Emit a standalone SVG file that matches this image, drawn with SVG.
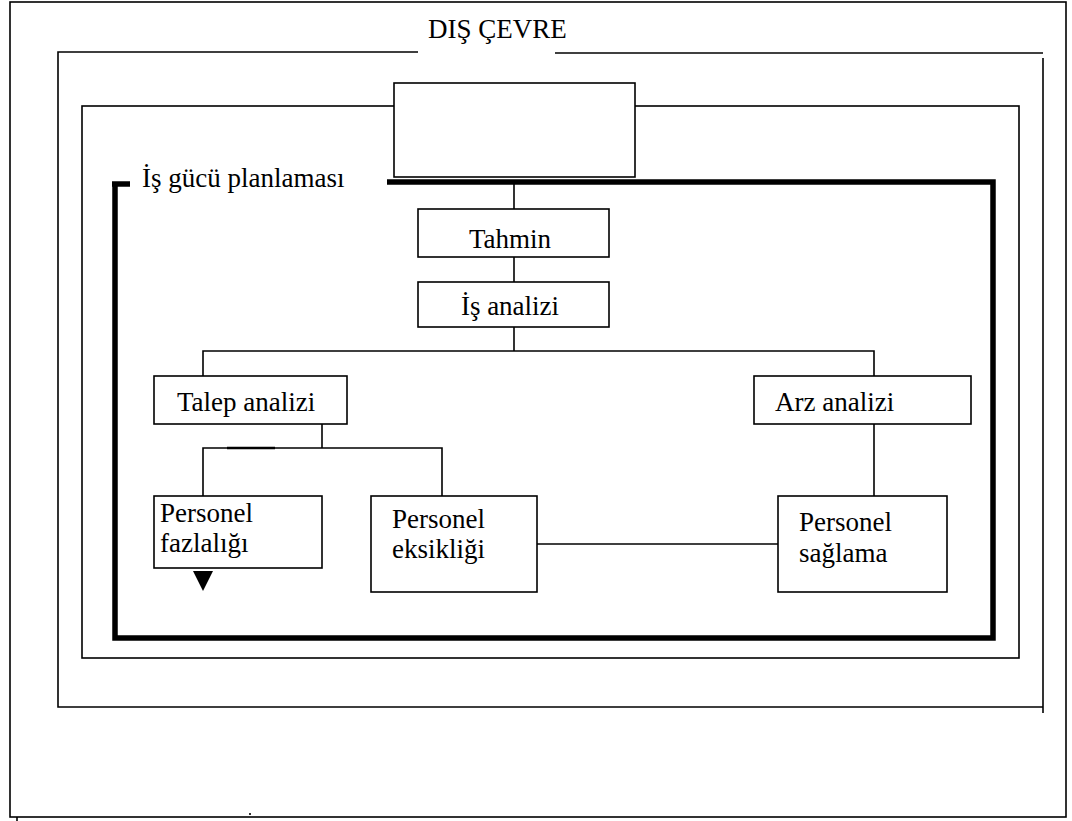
<svg xmlns="http://www.w3.org/2000/svg" width="1072" height="821" viewBox="0 0 1072 821">
<style>
.ln{stroke:#000;stroke-width:1.6;fill:none}
.bx{stroke:#000;stroke-width:1.6;fill:#fff}
.thick{stroke:#000;stroke-width:5.5;fill:none}
.t{font-family:"Liberation Serif","Times New Roman",serif;font-size:27px;fill:#000}
</style>
<rect width="1072" height="821" fill="#fff"/>
<g id="outer-frame">
<rect x="10" y="2" width="1056" height="815" class="ln"/>
<line x1="17" y1="817" x2="17" y2="821" class="ln"/>
<line x1="250" y1="813" x2="250" y2="815" class="ln"/>
</g>
<g id="dis-cevre">
<path d="M418 52 H58 V707 H1043" class="ln"/>
<line x1="555" y1="53" x2="1043" y2="53" class="ln"/>
<line x1="1043" y1="58" x2="1043" y2="713" class="ln"/>
<text x="428" y="38" class="t">DIŞ ÇEVRE</text>
</g>
<g id="inner-frame">
<rect x="82" y="106" width="937" height="552" class="ln"/>
</g>
<g id="top-box">
<rect x="394" y="83" width="241" height="94" class="bx"/>
</g>
<g id="isgucu-frame">
<path d="M387 182 H993 V638 H115 V184" class="thick"/>
<line x1="112" y1="184" x2="130" y2="184" class="thick" stroke-width="5"/>
<text x="142" y="187" class="t" font-size="28">İş gücü planlaması</text>
</g>
<g id="connectors">
<line x1="514" y1="182" x2="514" y2="209" class="ln"/>
<line x1="514" y1="257" x2="514" y2="282" class="ln"/>
<line x1="514" y1="327" x2="514" y2="351" class="ln"/>
<path d="M203 376 V351 H874 V376" class="ln"/>
<line x1="322" y1="424" x2="322" y2="448" class="ln"/>
<path d="M203 496 V448 H442 V496" class="ln"/>
<line x1="227" y1="448" x2="275" y2="448" stroke="#000" stroke-width="2.4"/>
<line x1="874" y1="424" x2="874" y2="496" class="ln"/>
<line x1="537" y1="544" x2="778" y2="544" class="ln"/>
<polygon points="193,571 213,571 203,591" fill="#000"/>
</g>
<g id="tahmin">
<rect x="418" y="209" width="191" height="48" class="bx"/>
<text x="510" y="248" class="t" text-anchor="middle">Tahmin</text>
</g>
<g id="is-analizi">
<rect x="418" y="282" width="191" height="45" class="bx"/>
<text x="510" y="315" class="t" text-anchor="middle">İş analizi</text>
</g>
<g id="talep-analizi">
<rect x="154" y="376" width="193" height="48" class="bx"/>
<text x="177" y="411" class="t">Talep analizi</text>
</g>
<g id="arz-analizi">
<rect x="754" y="376" width="217" height="48" class="bx"/>
<text x="775" y="411" class="t">Arz analizi</text>
</g>
<g id="personel-fazlaligi">
<rect x="154" y="496" width="168" height="72" class="bx"/>
<text x="160" y="522" class="t">Personel</text>
<text x="160" y="552" class="t">fazlalığı</text>
</g>
<g id="personel-eksikligi">
<rect x="371" y="496" width="166" height="96" class="bx"/>
<text x="392" y="528" class="t">Personel</text>
<text x="392" y="558" class="t">eksikliği</text>
</g>
<g id="personel-saglama">
<rect x="778" y="496" width="169" height="96" class="bx"/>
<text x="799" y="531" class="t">Personel</text>
<text x="799" y="562" class="t">sağlama</text>
</g>
</svg>
